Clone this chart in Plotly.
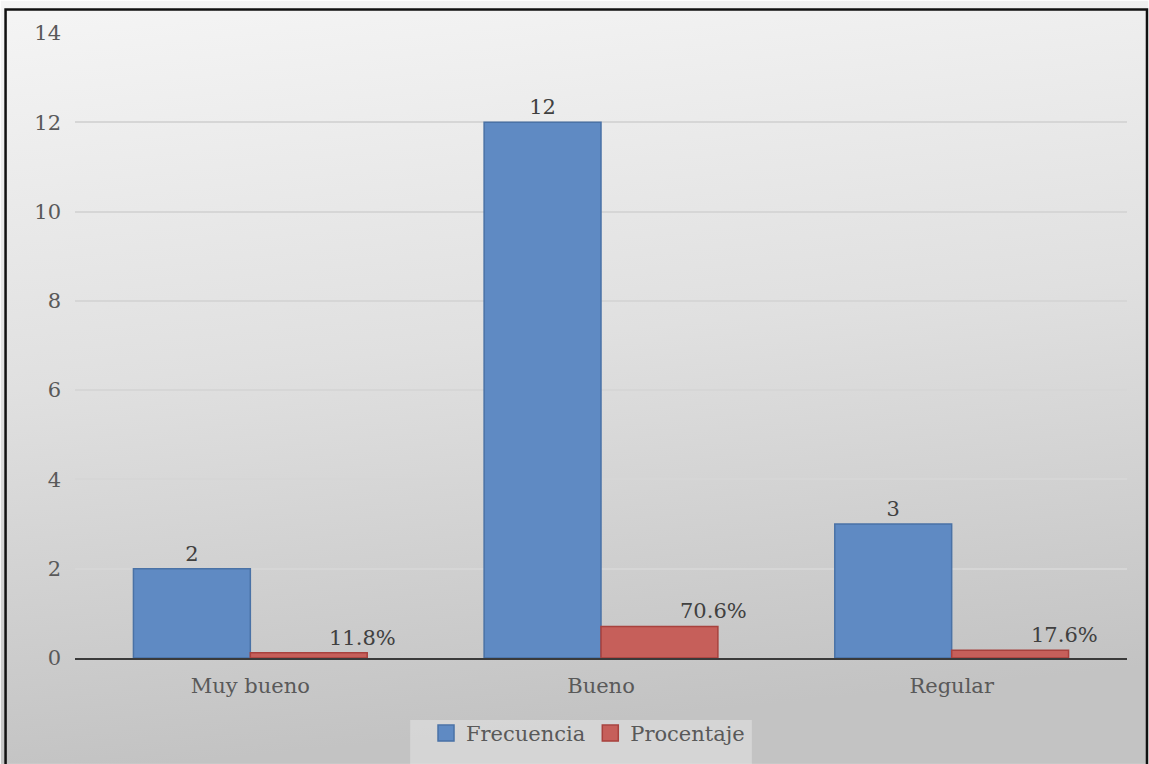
import base64
import plotly.graph_objects as go

# Survey results
categorias = ["Muy bueno", "Bueno", "Regular"]
frecuencia = [2, 12, 3]
procentaje = [0.118, 0.706, 0.176]
y_ticks = [0, 2, 4, 6, 8, 10, 12, 14]

W, H = 1149, 764
ML, MR, MT, MB = 74.5, 21.5, 32.5, 106
PW, PH = W - ML - MR, H - MT - MB

FONT = "DejaVu Serif"
TXT = "#595959"
FS = 21

BLUE, BLUE_EDGE = "#5f8ac3", "#4a72a6"
RED, RED_EDGE = "#c65f5a", "#a8423e"

fig = go.Figure()
fig.add_trace(go.Bar(
    name="Frecuencia", x=categorias, y=frecuencia,
    marker=dict(color=BLUE, line=dict(color=BLUE_EDGE, width=1.5)),
    text=[str(v) for v in frecuencia], textposition="outside",
    textfont=dict(family=FONT, size=FS, color="#404040"),
    cliponaxis=False, showlegend=False,
))
fig.add_trace(go.Bar(
    name="Procentaje", x=categorias, y=procentaje,
    marker=dict(color=RED, line=dict(color=RED_EDGE, width=1.5)),
    showlegend=False,
))

# legend entries with large square swatches
for name, col, edge in [("Frecuencia", BLUE, BLUE_EDGE), ("Procentaje", RED, RED_EDGE)]:
    fig.add_trace(go.Scatter(
        name=name, x=[None], y=[None], mode="markers",
        marker=dict(symbol="square", size=19, color=col, line=dict(color=edge, width=1.5)),
    ))

# percentage labels sit up and to the right of the red bars
for i, v in enumerate(procentaje):
    fig.add_annotation(
        x=i + 1 / 6, y=v, xref="x", yref="y",
        text=f"{v * 100:.1f}%", showarrow=False,
        xanchor="center", yanchor="bottom", xshift=54, yshift=1,
        font=dict(family=FONT, size=FS, color="#404040"),
    )

# soft grey background gradient across the whole canvas
svg = (
    f'<svg xmlns="http://www.w3.org/2000/svg" width="{W}" height="{H}" '
    f'viewBox="0 0 {W} {H}" preserveAspectRatio="none">'
    '<defs><linearGradient id="g" x1="0" y1="0" x2="0.15" y2="1">'
    '<stop offset="0" stop-color="#f5f5f5"/>'
    '<stop offset="0.5" stop-color="#e0e0e0"/>'
    '<stop offset="1" stop-color="#c3c3c3"/>'
    '</linearGradient></defs>'
    f'<rect width="{W}" height="{H}" fill="url(#g)"/></svg>'
)
uri = "data:image/svg+xml;base64," + base64.b64encode(svg.encode()).decode()
px = lambda x: (x - ML) / PW
py = lambda y: (H - MB - y) / PH
fig.add_layout_image(dict(
    source=uri, xref="paper", yref="paper",
    x=px(0), y=py(0), sizex=W / PW, sizey=H / PH,
    xanchor="left", yanchor="top", sizing="stretch", layer="below",
))

# lighter panel behind the legend
fig.add_shape(type="rect", xref="paper", yref="paper",
              x0=px(410), x1=px(752), y0=py(780), y1=py(720),
              fillcolor="rgba(255,255,255,0.3)", line=dict(width=0), layer="below")

# outer frame
fig.add_shape(type="rect", xref="paper", yref="paper",
              x0=px(5), x1=px(1147.5), y0=py(780), y1=py(9),
              line=dict(color="#111111", width=2.5), layer="above")

fig.update_layout(
    width=W, height=H,
    margin=dict(l=ML, r=MR, t=MT, b=MB, autoexpand=False),
    paper_bgcolor="white", plot_bgcolor="rgba(0,0,0,0)",
    barmode="group", bargap=1 / 3, bargroupgap=0,
    font=dict(family=FONT, size=FS, color=TXT),
    showlegend=True,
    legend=dict(
        orientation="h", x=px(588), xanchor="center",
        y=py(713), yanchor="top",
        bgcolor="rgba(0,0,0,0)",
        font=dict(family=FONT, size=FS, color=TXT),
        itemsizing="trace", traceorder="normal", itemwidth=30,
    ),
    xaxis=dict(
        showline=True, linecolor="#3a3a3a", linewidth=2,
        ticks="", tickfont=dict(family=FONT, size=FS, color=TXT),
        showgrid=False, ticklabelstandoff=8,
    ),
    yaxis=dict(
        range=[0, 14], tickvals=y_ticks,
        showgrid=True, gridcolor="#d6d6d6", gridwidth=1.5,
        zeroline=False, showline=False, ticks="",
        ticklabelstandoff=13,
        tickfont=dict(family=FONT, size=FS, color=TXT),
    ),
)

fig.write_html("out.html")
